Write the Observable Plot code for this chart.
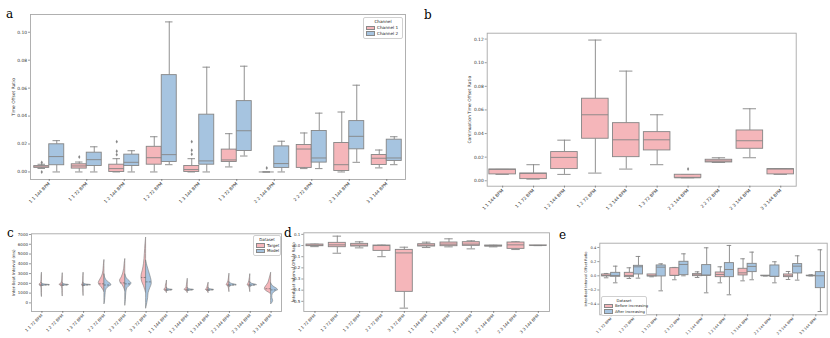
<!DOCTYPE html>
<html><head><meta charset="utf-8">
<script src="https://cdn.jsdelivr.net/npm/d3@7"></script>
<script src="https://cdn.jsdelivr.net/npm/@observablehq/plot@0.6"></script>
<style>
body{margin:0;background:#fff;}
#root{position:relative;width:830px;height:338px;overflow:hidden;font-family:"DejaVu Sans",sans-serif;background:#fff;}
.panel{position:absolute;}
.panel svg{overflow:visible;background:transparent !important;}
.letter{position:absolute;font-family:"DejaVu Serif","Liberation Serif",serif;font-size:12px;line-height:1;color:#000;}
.legend{position:absolute;background:#fff;border:0.7px solid #d0d0d0;border-radius:2px;font-size:4.2px;color:#222;padding:1px 2px 1px 2px;box-sizing:border-box;line-height:1.4;}
.legend .t{text-align:center;}
.legend .e{display:flex;align-items:center;white-space:nowrap;}
.legend .sw{display:inline-block;flex-shrink:0;width:9px;height:4.5px;margin-right:2px;border:0.5px solid #888;box-sizing:border-box;}
</style></head>
<body><div id="root"></div>
<script>
// ---------- DATA ----------
const colors = ["#f5b6ba", "#a6c4e0"];

// Panel a
const catsA = ["1 1 144 BPM","1 1 72 BPM","1 2 144 BPM","1 2 72 BPM","1 3 144 BPM","1 3 72 BPM","2 2 144 BPM","2 2 72 BPM","2 3 144 BPM","3 3 144 BPM"];
const seriesA = ["Channel 1","Channel 2"];
// [low, q1, median, q3, high]
const ch1A = [[0.0025,0.003,0.0035,0.0042,0.0055],[0.0,0.0024,0.0043,0.0055,0.0071],[0.0,0.0,0.0024,0.0052,0.0095],[0.0,0.0052,0.0102,0.018,0.0252],[0.0,0.0,0.0017,0.0043,0.0095],[0.0036,0.0071,0.0086,0.016,0.0274],[0.0,0.0,0.0,0.0,0.0],[0.0024,0.0029,0.0164,0.0193,0.0279],[0.0,0.0007,0.0052,0.0207,0.0429],[0.0029,0.005,0.0098,0.0121,0.0157]];
const ch2A = [[0.0,0.0048,0.011,0.0198,0.0224],[0.0,0.0043,0.0088,0.0138,0.018],[0.0,0.0043,0.0069,0.0124,0.0152],[0.0052,0.0071,0.0124,0.0693,0.1074],[0.0,0.0052,0.0079,0.041,0.075],[0.0114,0.015,0.0295,0.0507,0.0757],[0.0,0.0029,0.006,0.0183,0.022],[0.0024,0.0067,0.01,0.0293,0.0421],[0.0069,0.0162,0.0255,0.0364,0.0621],[0.0052,0.0079,0.01,0.0231,0.0252]];
const ch1FliersA = [[0.0068,0.0],[0.0107],[0.0217,0.0148,0.0124],[],[0.0217,0.0155,0.0126],[],[0.0029],[],[],[]];
const ch2FliersA = [[],[],[],[],[],[],[],[],[],[]];
const ticksA = [0,0.02,0.04,0.06,0.08,0.10];

// Panel b
const catsB = ["1 1 144 BPM","1 1 72 BPM","1 2 144 BPM","1 2 72 BPM","1 3 144 BPM","1 3 72 BPM","2 2 144 BPM","2 2 72 BPM","2 3 144 BPM","3 3 144 BPM"];
const statsB = [[0.0054,0.0054,0.0096,0.0096,0.0096],[0.0014,0.0014,0.0062,0.0062,0.0136],[0.0054,0.0099,0.0198,0.0243,0.0344],[0.0065,0.0356,0.0559,0.0695,0.1192],[0.0099,0.02,0.0347,0.0488,0.0929],[0.0136,0.0257,0.0347,0.0412,0.0559],[0.0025,0.0025,0.0025,0.0051,0.0051],[0.0155,0.0155,0.0167,0.0178,0.0195],[0.0195,0.0271,0.0339,0.0426,0.061],[0.0054,0.0054,0.0099,0.0099,0.0099]];
const fliersB = [[],[],[],[],[],[],[0.0099],[],[],[]];
const ticksB = [0,0.02,0.04,0.06,0.08,0.10,0.12];

// Panel c (violins): profile points [value ms, half width in category units]
const catsC = ["1 1 72 BPM","1 2 72 BPM","1 3 72 BPM","2 2 72 BPM","2 3 72 BPM","3 3 72 BPM","1 1 144 BPM","1 2 144 BPM","1 3 144 BPM","2 2 144 BPM","2 3 144 BPM","3 3 144 BPM"];
const seriesC = ["Target","Model"];
const targetProfiles = [
 [[3050,0],[2700,0.015],[2300,0.02],[2000,0.05],[1850,0.12],[1750,0.06],[1500,0.02],[1000,0.015],[600,0]],
 [[3000,0],[2600,0.015],[2200,0.03],[1950,0.08],[1850,0.16],[1750,0.07],[1450,0.02],[1000,0.015],[650,0]],
 [[3050,0],[2600,0.015],[2200,0.02],[1950,0.04],[1840,0.07],[1700,0.03],[1400,0.015],[1000,0.01],[700,0]],
 [[4350,0],[4000,0.02],[3500,0.04],[3000,0.07],[2600,0.14],[2300,0.22],[2050,0.27],[1850,0.24],[1600,0.14],[1350,0.06],[1100,0]],
 [[4450,0],[4000,0.03],[3500,0.05],[3000,0.1],[2600,0.17],[2300,0.25],[2050,0.22],[1800,0.12],[1500,0.05],[1200,0]],
 [[6650,0],[6000,0.03],[5000,0.06],[4000,0.1],[3300,0.16],[2900,0.21],[2500,0.22],[2100,0.18],[1700,0.1],[1300,0.04],[1000,0]],
 [[2250,0],[2000,0.02],[1750,0.05],[1500,0.06],[1340,0.13],[1250,0.07],[1100,0.02],[1000,0]],
 [[2430,0],[2100,0.02],[1800,0.04],[1500,0.07],[1340,0.16],[1250,0.07],[1100,0.02],[1000,0]],
 [[2030,0],[1800,0.03],[1550,0.06],[1400,0.1],[1330,0.13],[1240,0.06],[1100,0.02],[1000,0]],
 [[2950,0],[2600,0.02],[2200,0.05],[1950,0.1],[1830,0.14],[1700,0.06],[1400,0.02],[1100,0]],
 [[2900,0],[2550,0.02],[2200,0.05],[1950,0.09],[1830,0.13],[1700,0.06],[1400,0.02],[1100,0]],
 [[3050,0],[2800,0.03],[2400,0.08],[2000,0.14],[1700,0.24],[1450,0.3],[1250,0.25],[1050,0.1],[900,0]]
];
const modelProfiles = [
 [[2000,0],[1900,0.1],[1830,0.38],[1780,0.15],[1700,0]],
 [[2000,0],[1900,0.09],[1830,0.3],[1780,0.12],[1700,0]],
 [[2000,0],[1900,0.1],[1830,0.35],[1780,0.13],[1700,0]],
 [[2900,0],[2500,0.05],[2200,0.15],[1950,0.3],[1800,0.33],[1650,0.22],[1400,0.1],[1000,0.06],[500,0.04],[0,0.02],[-150,0]],
 [[2900,0],[2500,0.08],[2200,0.22],[2000,0.3],[1800,0.25],[1500,0.1],[1000,0.05],[300,0.03],[-300,0]],
 [[4300,0],[3800,0.06],[3300,0.13],[2800,0.2],[2300,0.26],[1900,0.27],[1500,0.2],[1000,0.12],[500,0.1],[0,0.06],[-600,0]],
 [[1500,0],[1400,0.1],[1330,0.28],[1270,0.15],[1200,0]],
 [[1500,0],[1400,0.1],[1330,0.3],[1270,0.15],[1200,0]],
 [[1500,0],[1400,0.09],[1330,0.26],[1270,0.12],[1200,0]],
 [[2100,0],[1950,0.12],[1830,0.35],[1750,0.12],[1600,0]],
 [[2100,0],[1950,0.1],[1830,0.32],[1750,0.12],[1600,0]],
 [[2000,0],[1700,0.1],[1500,0.25],[1330,0.33],[1150,0.2],[900,0.08],[500,0.06],[200,0.1],[0,0.06],[-150,0]]
];
const targetMedians = [1830,1830,1830,1950,2050,2600,1330,1330,1330,1830,1830,1450];
const modelMedians = [1830,1830,1830,1830,1950,2150,1330,1330,1330,1830,1830,1330];
const ticksC = [0,1000,2000,3000,4000,5000,6000,7000];

// Panel d
const catsD = ["1 1 72 BPM","1 2 72 BPM","1 3 72 BPM","2 2 72 BPM","3 3 72 BPM","1 1 144 BPM","1 2 144 BPM","1 3 144 BPM","2 2 144 BPM","2 3 144 BPM","3 3 144 BPM"];
const statsD = [[-0.01,-0.006,0.003,0.009,0.012],[-0.069,-0.015,0.006,0.024,0.084],[-0.021,-0.009,0.003,0.015,0.033],[-0.1,-0.048,0.0,0.0,0.003],[-0.561,-0.415,-0.066,-0.039,-0.015],[-0.018,-0.009,0.003,0.012,0.03],[-0.012,-0.006,0.012,0.027,0.06],[-0.03,-0.003,0.012,0.03,0.042],[-0.012,-0.009,-0.003,0.0,0.002],[-0.036,-0.03,0.006,0.027,0.033],[-0.001,-0.001,0.0,0.001,0.001]];
const ticksD = [-0.5,-0.4,-0.3,-0.2,-0.1,0.0,0.1];

// Panel e
const catsE = ["1 1 72 BPM","1 2 72 BPM","1 3 72 BPM","2 3 72 BPM","1 1 144 BPM","1 2 144 BPM","1 3 144 BPM","2 2 144 BPM","2 3 144 BPM","3 3 144 BPM"];
const seriesE = ["Before increasing","After increasing"];
const beforeE = [[-0.028,-0.009,0.005,0.019,0.033],[-0.038,-0.019,0.005,0.042,0.113],[-0.014,-0.009,0.0,0.019,0.019],[-0.056,0.0,0.005,0.108,0.118],[-0.024,-0.005,0.014,0.024,0.056],[-0.099,-0.019,0.019,0.047,0.127],[-0.071,0.005,0.042,0.099,0.24],[-0.002,-0.002,0.0,0.002,0.002],[-0.052,-0.019,0.0,0.019,0.061],[-0.002,-0.002,0.0,0.002,0.014]];
const afterE = [[-0.099,-0.014,0.005,0.042,0.136],[-0.033,0.019,0.127,0.141,0.273],[-0.212,-0.009,0.122,0.146,0.169],[0.0,0.009,0.16,0.198,0.31],[-0.24,0.005,0.005,0.151,0.395],[-0.268,-0.019,0.089,0.179,0.428],[-0.056,0.052,0.132,0.169,0.334],[-0.099,-0.014,-0.009,0.146,0.198],[-0.061,0.033,0.136,0.165,0.282],[-0.504,-0.174,0.0,0.052,0.367]];
const ticksE = [-0.4,-0.2,0.0,0.2,0.4];

// ---------- HELPERS ----------
const root = document.getElementById("root");
const edge = "#858585";
const frameCol = "#a8a8a8";
const minus = s => s.replace("-", "\u2212");

function place(el, x, y) { el.style.left = x + "px"; el.style.top = y + "px"; el.classList.add("panel"); root.appendChild(el); }
function letter(t, x, y) { const d = document.createElement("div"); d.className = "letter"; d.textContent = t; d.style.left = x + "px"; d.style.top = y + "px"; root.appendChild(d); }
function legend(title, names, x, y, w, fs) {
  const d = document.createElement("div"); d.className = "legend"; d.style.left = x + "px"; d.style.top = y + "px"; d.style.width = w + "px";
  if (fs) d.style.fontSize = fs + "px";
  let h = `<div class="t">${title}</div>`;
  names.forEach((n, k) => { h += `<div class="e"><span class="sw" style="background:${colors[k]}"></span>${n}</div>`; });
  d.innerHTML = h; root.appendChild(d);
}

function boxData(statsList, offsets, hw) {
  const rows = [];
  statsList.forEach((stats, s) => stats.forEach((st, i) => {
    rows.push({i, xc: i + offsets[s], hw, low: st[0], q1: st[1], med: st[2], q3: st[3], high: st[4], fill: colors[s]});
  }));
  return rows;
}
function flierData(fliersList, offsets) {
  const out = [];
  fliersList.forEach((fl, s) => fl.forEach((vals, i) => vals.forEach(v => out.push({xc: i + offsets[s], v}))));
  return out;
}
function boxMarks(rows, fliers) {
  return [
    Plot.ruleX(rows, {x: "xc", y1: "low", y2: "q1", stroke: edge, strokeWidth: 0.9}),
    Plot.ruleX(rows, {x: "xc", y1: "q3", y2: "high", stroke: edge, strokeWidth: 0.9}),
    Plot.ruleY(rows, {y: "low", x1: d => d.xc - d.hw / 2, x2: d => d.xc + d.hw / 2, stroke: edge, strokeWidth: 0.9}),
    Plot.ruleY(rows, {y: "high", x1: d => d.xc - d.hw / 2, x2: d => d.xc + d.hw / 2, stroke: edge, strokeWidth: 0.9}),
    Plot.rect(rows, {x1: d => d.xc - d.hw, x2: d => d.xc + d.hw, y1: "q1", y2: "q3", fill: "fill", stroke: edge, strokeWidth: 0.9}),
    Plot.ruleY(rows, {y: "med", x1: d => d.xc - d.hw, x2: d => d.xc + d.hw, stroke: edge, strokeWidth: 0.9}),
    Plot.dot(fliers, {x: "xc", y: "v", symbol: "diamond", r: 1.2, fill: edge, stroke: null})
  ];
}
function basePlot({width, height, margins, xdom, ydom, cats, yticks, yfmt, ylabel, labelOffset, marks, fs = 4.4}) {
  return Plot.plot({
    width, height,
    marginLeft: margins[0], marginRight: margins[1], marginTop: margins[2], marginBottom: margins[3],
    style: {fontFamily: "DejaVu Sans, sans-serif", fontSize: fs + "px", color: "#333", background: "transparent", overflow: "visible"},
    x: {type: "linear", domain: xdom, axis: null},
    y: {domain: ydom, axis: null},
    color: {type: "identity"},
    marks: [
      ...marks,
      Plot.frame({stroke: frameCol, strokeWidth: 0.9}),
      Plot.axisX(d3.range(cats.length), {tickFormat: i => cats[i], tickRotate: -45, tickSize: 2, tickPadding: 1.5, stroke: "#555", strokeWidth: 0.6, fill: "#333", label: null}),
      Plot.axisY(yticks, {tickFormat: yfmt, tickSize: 2, tickPadding: 1.5, stroke: "#555", strokeWidth: 0.6, fill: "#333", label: ylabel, labelAnchor: "center", labelOffset, labelArrow: "none"})
    ]
  });
}

// ---------- PANEL A ----------
{
  const offs = [-0.2, 0.2];
  const rows = boxData([ch1A, ch2A], offs, 0.2);
  const fl = flierData([ch1FliersA, ch2FliersA], offs);
  const p = basePlot({width: 410, height: 212, margins: [30, 5, 14, 33], xdom: [-0.5, 9.5], ydom: [-0.0054, 0.1127],
    cats: catsA, yticks: ticksA, yfmt: d3.format(".2f"), ylabel: "Time Offset Ratio", labelOffset: 19, marks: boxMarks(rows, fl)});
  place(p, 0, 0);
  letter("a", 6, 8);
  legend("Channel", seriesA, 363, 17, 40);
}
// ---------- PANEL B ----------
{
  const rows = boxData([statsB], [0], 0.43);
  const fl = flierData([fliersB], [0]);
  const p = basePlot({width: 410, height: 212, margins: [66.7, 34.3, 32.7, 26.3], xdom: [-0.5, 9.5], ydom: [-0.0046, 0.125],
    cats: catsB, yticks: ticksB, yfmt: d3.format(".2f"), ylabel: "Continuation Time Offset Ratio", labelOffset: 19, marks: boxMarks(rows, fl)});
  place(p, 420, 0);
  letter("b", 424, 9);
}
// ---------- PANEL C ----------
{
  const pts = [];
  const meds = [];
  [targetProfiles, modelProfiles].forEach((profs, s) => profs.forEach((prof, i) => {
    const sign = s === 0 ? -1 : 1;
    prof.forEach(([v, w]) => pts.push({key: s + "-" + i, v, xa: i, xb: i + sign * w, fill: colors[s]}));
    const m = (s === 0 ? targetMedians : modelMedians)[i];
    let wm = 0;
    for (let k = 0; k < prof.length - 1; k++) {
      const [v0, w0] = prof[k], [v1, w1] = prof[k + 1];
      if ((m <= v0 && m >= v1)) { wm = w0 + (w1 - w0) * (v0 - m) / (v0 - v1 || 1); break; }
    }
    meds.push({v: m, xa: i, xb: i + sign * wm});
  }));
  const marks = [
    Plot.areaX(pts, {y: "v", x1: "xa", x2: "xb", z: "key", fill: "fill", stroke: "#7a7a7a", strokeWidth: 0.6, curve: "catmull-rom"}),
    Plot.ruleY(meds, {y: "v", x1: "xa", x2: "xb", stroke: "#555", strokeWidth: 0.6, strokeDasharray: "2,1.2"})
  ];
  const p = basePlot({width: 290, height: 126, margins: [31, 9, 21.3, 27], xdom: [-0.5, 11.5], ydom: [-880, 7070],
    cats: catsC, yticks: ticksC, yfmt: d3.format("d"), ylabel: "Inter-Beat Interval (ms)", labelOffset: 19, marks, fs: 4});
  place(p, 0, 212);
  letter("c", 7, 227);
  legend("Dataset", seriesC, 253, 235, 28, 4);
}
// ---------- PANEL D ----------
{
  const rows = boxData([statsD], [0], 0.38);
  const p = basePlot({width: 270, height: 126, margins: [18.3, 6, 20.3, 27], xdom: [-0.5, 10.5], ydom: [-0.591, 0.114],
    cats: catsD, yticks: ticksD, yfmt: d => minus(d3.format(".1f")(d)), ylabel: "Interbeat Interval Offset Ratio", labelOffset: 12, marks: boxMarks(rows, []), fs: 4});
  place(p, 285, 212);
  letter("d", 284, 227);
}
// ---------- PANEL E ----------
{
  const offs = [-0.2, 0.2];
  const rows = boxData([beforeE, afterE], offs, 0.2);
  const p = basePlot({width: 275, height: 126, margins: [44.3, 3.3, 30.7, 23.7], xdom: [-0.5, 9.5], ydom: [-0.55, 0.46],
    cats: catsE, yticks: ticksE, yfmt: d => minus(d3.format(".1f")(d)), ylabel: "Inter-Beat Interval Offset Ratio", labelOffset: 15, marks: boxMarks(rows, []), fs: 3.6});
  place(p, 555, 212);
  letter("e", 559, 229);
  legend("Dataset", seriesE, 601, 296, 46, 3.8);
}
</script>
</body></html>
